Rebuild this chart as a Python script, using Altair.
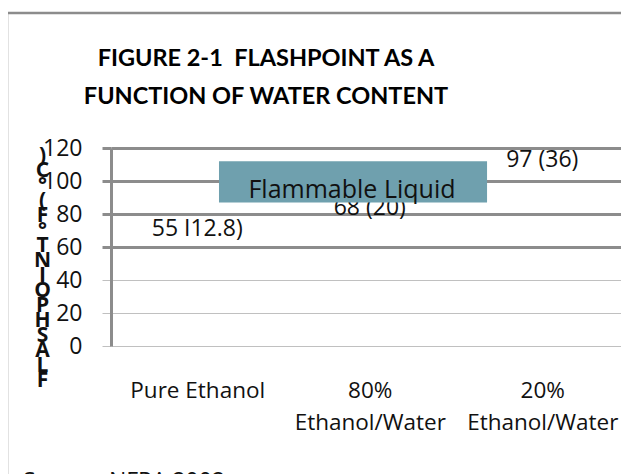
import json
import altair as alt
import pandas as pd

# ---- data ----
categories = ["Pure Ethanol", "80% Ethanol/Water", "20% Ethanol/Water"]
category_lines = [["Pure Ethanol"], ["80%", "Ethanol/Water"], ["20%", "Ethanol/Water"]]
category_index = [0, 1, 2]
flashpoint_f = [55, 68, 97]
point_labels = ["55 I12.8)", "68 (20)", "97 (36)"]
y_ticks = [0, 20, 40, 60, 80, 100, 120]
zone_label = ["Flammable Liquid"]
zone_x = [0.126, 1.680]
zone_y = [87, 112]
zone_text_pos = [0.897, 94.5]
title_lines = ["FIGURE 2-1\u00a0 FLASHPOINT AS A", "FUNCTION OF WATER CONTENT"]
y_title_chars = [")", "C", "°", "(", "F", "°", " ", "T", "N", "I", "O", "P", "H", "S", "A", "L", "F"]
source_text = ["Source:  NFPA 2002"]

W, H = 510, 198
STEP = 172.5
FONT = "Open Sans"
TXT = "#111111"

df = pd.DataFrame({
    "idx": category_index,
    "category": categories,
    "flashpoint": flashpoint_f,
    "label": point_labels,
})
zone_df = pd.DataFrame({"x0": [zone_x[0]], "x1": [zone_x[1]], "y0": [zone_y[0]], "y1": [zone_y[1]],
                        "tx": [zone_text_pos[0]], "ty": [zone_text_pos[1]], "text": zone_label})
src_df = pd.DataFrame({"text": source_text})
one = pd.DataFrame({"a": [0]})

# category bands continue past the right edge of the visible page, as in the reference
xs = alt.Scale(domain=[-0.5, -0.5 + W / STEP], nice=False, zero=False)
ys = alt.Scale(domain=[0, 120], nice=False)

strong = "datum.value >= 60"

x_axis = alt.Axis(
    values=category_index, tickCount=3,
    labelExpr=json.dumps(category_lines) + "[datum.value]",
    title=None, grid=False, domain=False, ticks=False, tickSize=0,
    labelFont=FONT, labelFontSize=22.5, labelColor=TXT,
    labelBaseline="top", labelPadding=33, labelLineHeight=32,
    labelFlush=False, labelOverlap=False,
)
y_axis = alt.Axis(
    values=y_ticks, tickCount=7, labelOverlap=False,
    title=y_title_chars, titleAngle=0, titleAlign="center",
    titleBaseline="top", titleX=-69, titleY=-4, titleLineHeight=15,
    titleFont=FONT, titleFontSize=21, titleFontWeight="bold", titleColor=TXT,
    labelFont=FONT, labelFontSize=23, labelColor=TXT, labelPadding=20,
    domainColor="#8c8c8c", domainWidth=3,
    tickSize=9,
    tickColor={"condition": {"test": strong, "value": "#8c8c8c"}, "value": "#c0c0c0"},
    tickWidth={"condition": {"test": strong, "value": 3}, "value": 1},
    gridColor={"condition": {"test": strong, "value": "#8c8c8c"}, "value": "#c0c0c0"},
    gridWidth={"condition": {"test": strong, "value": 3}, "value": 1},
)

frame = alt.Chart(one).mark_rect(fillOpacity=0, stroke="#8c8c8c", strokeWidth=2.5).encode(
    x=alt.value(-104), x2=alt.value(W + 300), y=alt.value(-135), y2=alt.value(H + 400)
)

title = alt.Chart(one).mark_text(font="Lato", fontSize=23.5, fontWeight="bold", color="#000000",
                                 align="center", baseline="alphabetic", lineHeight=38).encode(
    x=alt.value(266 - 111), y=alt.value(66 - 148), text=alt.value(title_lines)
)

labels = alt.Chart(df).mark_text(font=FONT, fontSize=23, color=TXT, baseline="middle", dy=-26).encode(
    x=alt.X("idx:Q", scale=xs, axis=x_axis),
    y=alt.Y("flashpoint:Q", scale=ys, axis=y_axis),
    text="label:N",
)

zone = alt.Chart(zone_df).mark_rect(color="#6fa0ae").encode(
    x=alt.X("x0:Q", scale=xs), x2="x1:Q",
    y=alt.Y("y0:Q", scale=ys), y2="y1:Q",
)
zone_txt = alt.Chart(zone_df).mark_text(font=FONT, fontSize=25, color=TXT, baseline="middle").encode(
    x=alt.X("tx:Q", scale=xs), y=alt.Y("ty:Q", scale=ys), text="text:N"
)

source = alt.Chart(src_df).mark_text(font=FONT, fontSize=23, color=TXT, align="left",
                                     baseline="alphabetic").encode(
    x=alt.value(-88), y=alt.value(H + 143), text="text:N"
)

chart = alt.layer(frame, title, labels, zone, zone_txt, source).properties(
    width=W, height=H,
    autosize=alt.AutoSizeParams(type="none"),
    padding={"left": 103, "top": 140, "right": 0, "bottom": 128},
).configure_view(stroke=None)

chart.save("out.html", embed_options={"renderer": "svg", "actions": False})
